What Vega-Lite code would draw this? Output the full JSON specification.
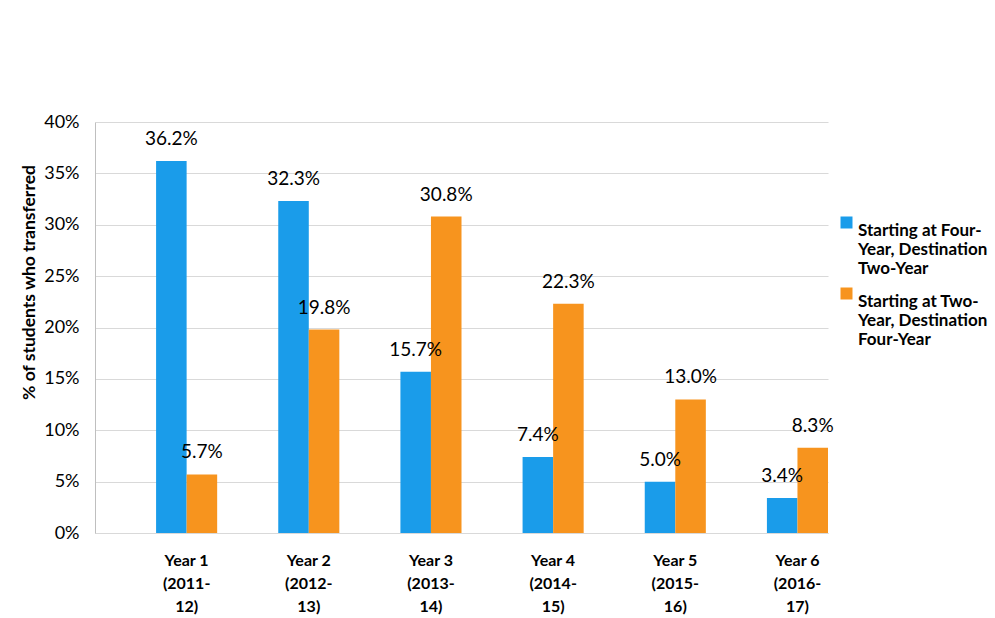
{
  "$schema": "https://vega.github.io/schema/vega-lite/v6.json",
  "width": 733,
  "height": 411,
  "autosize": {"type": "none"},
  "padding": {"left": 95, "top": 122, "right": 167, "bottom": 85},
  "background": "white",
  "config": {"view": {"stroke": null}, "font": "Lato"},
  "data": {
    "values": [
      {"year": "Year 1|(2011-|12)", "series": "Starting at Four-|Year, Destination|Two-Year", "value": 0.362},
      {"year": "Year 1|(2011-|12)", "series": "Starting at Two-|Year, Destination|Four-Year", "value": 0.057},
      {"year": "Year 2|(2012-|13)", "series": "Starting at Four-|Year, Destination|Two-Year", "value": 0.323},
      {"year": "Year 2|(2012-|13)", "series": "Starting at Two-|Year, Destination|Four-Year", "value": 0.198},
      {"year": "Year 3|(2013-|14)", "series": "Starting at Four-|Year, Destination|Two-Year", "value": 0.157},
      {"year": "Year 3|(2013-|14)", "series": "Starting at Two-|Year, Destination|Four-Year", "value": 0.308},
      {"year": "Year 4|(2014-|15)", "series": "Starting at Four-|Year, Destination|Two-Year", "value": 0.074},
      {"year": "Year 4|(2014-|15)", "series": "Starting at Two-|Year, Destination|Four-Year", "value": 0.223},
      {"year": "Year 5|(2015-|16)", "series": "Starting at Four-|Year, Destination|Two-Year", "value": 0.050},
      {"year": "Year 5|(2015-|16)", "series": "Starting at Two-|Year, Destination|Four-Year", "value": 0.130},
      {"year": "Year 6|(2016-|17)", "series": "Starting at Four-|Year, Destination|Two-Year", "value": 0.034},
      {"year": "Year 6|(2016-|17)", "series": "Starting at Two-|Year, Destination|Four-Year", "value": 0.083}
    ]
  },
  "encoding": {
    "x": {
      "field": "year", "type": "nominal", "sort": null,
      "scale": {"paddingInner": 0.5, "paddingOuter": 0.25, "align": 1},
      "axis": {
        "title": null, "labelExpr": "split(datum.label, '|')", "labelAngle": 0,
        "labelFont": "Lato", "labelFontWeight": "bold", "labelFontSize": 16, "labelColor": "black",
        "labelLineHeight": 23, "labelPadding": 19, "ticks": false, "domainColor": "#D9D9D9",
        "labelBaseline": "top", "labelLimit": 200
      }
    },
    "xOffset": {"field": "series", "type": "nominal", "sort": null, "scale": {"paddingInner": 0, "paddingOuter": 0}},
    "y": {
      "field": "value", "type": "quantitative",
      "scale": {"domain": [0, 0.4], "nice": false},
      "axis": {
        "format": ".0%", "values": [0, 0.05, 0.1, 0.15, 0.2, 0.25, 0.3, 0.35, 0.4],
        "title": "%  of students who transferred", "titleFont": "Lato", "titleFontSize": 17.5, "titleFontWeight": "bold",
        "titleColor": "black", "titlePadding": 5, "titleY": 160,
        "labelFont": "Lato", "labelFontSize": 18, "labelColor": "black", "labelPadding": 16,
        "ticks": false, "domainColor": "#BFBFBF", "gridColor": "#D9D9D9", "grid": true
      }
    }
  },
  "layer": [
    {
      "mark": {"type": "bar"},
      "encoding": {
        "color": {
          "field": "series", "type": "nominal", "sort": null,
          "scale": {"range": ["#1A9CEA", "#F7941E"]},
          "legend": {
            "title": null, "orient": "none", "legendX": 743, "legendY": 92,
            "labelExpr": "split(datum.label, '|')",
            "symbolType": "square", "symbolSize": 144, "symbolStrokeWidth": 0,
            "labelFont": "Lato", "labelFontSize": 17, "labelFontWeight": "bold", "labelColor": "black",
            "labelLineHeight": 24, "labelBaseline": "top", "labelLimit": 200, "labelOffset": 3,
            "rowPadding": 8
          }
        }
      }
    },
    {
      "mark": {"type": "text", "baseline": "bottom", "dy": -12, "fontSize": 19, "font": "Lato", "color": "black"},
      "encoding": {"text": {"field": "value", "type": "quantitative", "format": ".1%"}}
    }
  ]
}
